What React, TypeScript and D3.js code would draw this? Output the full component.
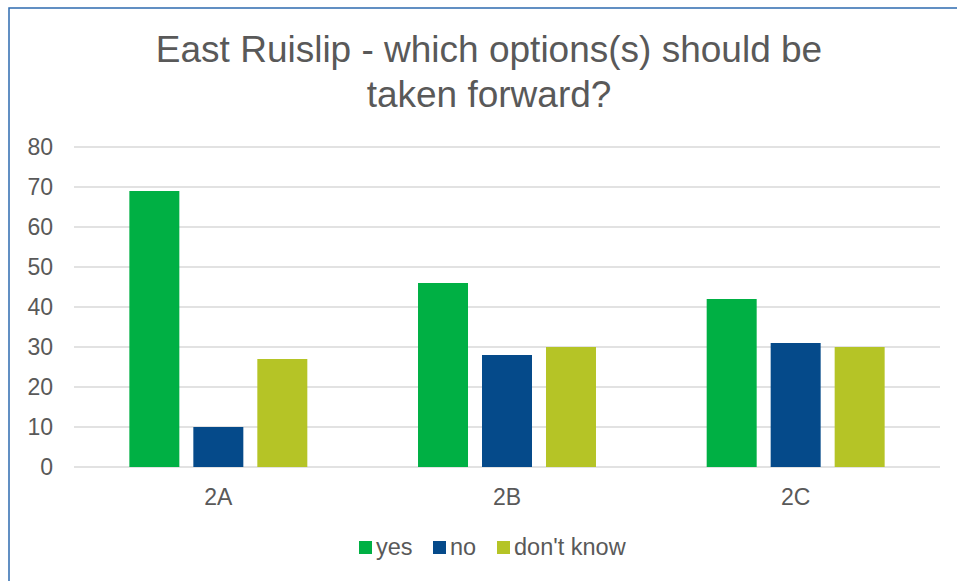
import React, { useRef, useEffect } from "react";
import * as d3 from "d3";

// Chart data
const categories: string[] = ["2A", "2B", "2C"];
const seriesNames: string[] = ["yes", "no", "don't know"];
const yesValues: number[] = [69, 46, 42];
const noValues: number[] = [10, 28, 31];
const dontKnowValues: number[] = [27, 30, 30];
const yTicks: number[] = [0, 10, 20, 30, 40, 50, 60, 70, 80];
const titleLines: string[] = ["East Ruislip - which options(s) should be", "taken forward?"];

const colors: string[] = ["#00B044", "#054A8A", "#B5C426"];

const App: React.FC = () => {
  const svgRef = useRef<SVGSVGElement | null>(null);

  useEffect(() => {
    const width = 957;
    const height = 581;
    const plot = { left: 74, right: 940, top: 147, bottom: 467 };
    const font = "'Liberation Sans', Arial, sans-serif";
    const textColor = "#595959";

    const values = [yesValues, noValues, dontKnowValues];

    const svg = d3.select(svgRef.current);
    svg.selectAll("*").remove();
    svg.attr("width", width).attr("height", height);

    // Chart border
    svg
      .append("rect")
      .attr("x", 9)
      .attr("y", 8)
      .attr("width", width + 10)
      .attr("height", height + 10)
      .attr("fill", "#fff")
      .attr("stroke", "#2E6BB0")
      .attr("stroke-width", 1.5);

    // Title
    svg
      .append("g")
      .selectAll("text")
      .data(titleLines)
      .join("text")
      .attr("x", 489)
      .attr("y", (_, i) => 62 + i * 44.5)
      .attr("text-anchor", "middle")
      .style("font-family", font)
      .style("font-size", "37px")
      .style("fill", textColor)
      .text((d) => d);

    // Scales
    const x0 = d3.scaleBand<string>().domain(categories).range([plot.left, plot.right]);
    const x1 = d3
      .scaleBand<string>()
      .domain(seriesNames)
      .range([0, x0.bandwidth()])
      .paddingInner(0.21875)
      .paddingOuter(0.865);
    const y = d3.scaleLinear().domain([0, 80]).range([plot.bottom, plot.top]);

    // Gridlines
    svg
      .append("g")
      .selectAll("line")
      .data(yTicks)
      .join("line")
      .attr("x1", plot.left)
      .attr("x2", plot.right)
      .attr("y1", (d) => y(d))
      .attr("y2", (d) => y(d))
      .attr("stroke", "#D9D9D9")
      .attr("stroke-width", 1.3);

    // Y tick labels
    svg
      .append("g")
      .selectAll("text")
      .data(yTicks)
      .join("text")
      .attr("x", 53)
      .attr("y", (d) => y(d))
      .attr("dy", "0.36em")
      .attr("text-anchor", "end")
      .style("font-family", font)
      .style("font-size", "23px")
      .style("fill", textColor)
      .text((d) => d);

    // Bars
    const groups = svg
      .append("g")
      .selectAll("g")
      .data(categories)
      .join("g")
      .attr("transform", (d) => `translate(${x0(d)},0)`);

    groups
      .selectAll("rect")
      .data((_, ci) => seriesNames.map((s, si) => ({ s, si, v: values[si][ci] })))
      .join("rect")
      .attr("x", (d) => x1(d.s) as number)
      .attr("width", x1.bandwidth())
      .attr("y", (d) => y(d.v))
      .attr("height", (d) => y(0) - y(d.v))
      .attr("fill", (d) => colors[d.si]);

    // Category labels
    svg
      .append("g")
      .selectAll("text")
      .data(categories)
      .join("text")
      .attr("x", (d) => (x0(d) as number) + x0.bandwidth() / 2)
      .attr("y", 505)
      .attr("text-anchor", "middle")
      .style("font-family", font)
      .style("font-size", "23px")
      .style("fill", textColor)
      .text((d) => d);

    // Legend
    const legendX = [359, 433, 497];
    const legend = svg
      .append("g")
      .selectAll("g")
      .data(seriesNames)
      .join("g")
      .attr("transform", (_, i) => `translate(${legendX[i]},541)`);

    legend
      .append("rect")
      .attr("width", 13)
      .attr("height", 13)
      .attr("fill", (_, i) => colors[i]);

    legend
      .append("text")
      .attr("x", 17)
      .attr("y", 14)
      .style("font-family", font)
      .style("font-size", "23.5px")
      .style("fill", textColor)
      .text((d) => d);
  }, []);

  return (
    <svg ref={svgRef} style={{ position: "absolute", left: 0, top: 0, display: "block" }}></svg>
  );
};

export default App;
